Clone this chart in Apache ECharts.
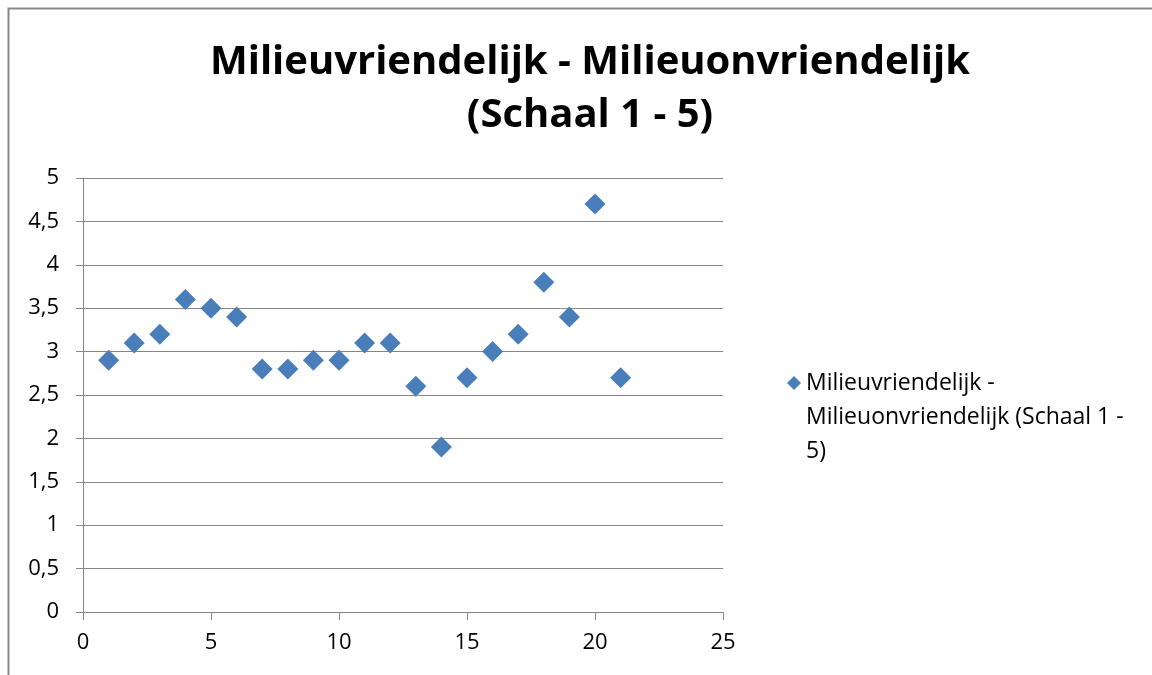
<!DOCTYPE html>
<html>
<head>
<meta charset="utf-8">
<script src="https://cdn.jsdelivr.net/npm/echarts@6/dist/echarts.min.js"></script>
<style>
  html, body { margin: 0; padding: 0; background: #fff; }
  #chart { width: 1152px; height: 675px; }
</style>
</head>
<body>
<div id="chart"></div>
<script>
// data
var seriesName = 'Milieuvriendelijk - Milieuonvriendelijk (Schaal 1 - 5)'
var xValues = [1, 2, 3, 4, 5, 6, 7, 8, 9, 10, 11, 12, 13, 14, 15, 16, 17, 18, 19, 20, 21]
var yValues = [2.9, 3.1, 3.2, 3.6, 3.5, 3.4, 2.8, 2.8, 2.9, 2.9, 3.1, 3.1, 2.6, 1.9, 2.7, 3.0, 3.2, 3.8, 3.4, 4.7, 2.7]

var font = '"Open Sans", Lato, sans-serif'
var grey = '#878787'

var chart = echarts.init(document.getElementById('chart'))
chart.setOption({
  backgroundColor: '#fff',
  animation: false,
  title: {
    text: 'Milieuvriendelijk - Milieuonvriendelijk\n(Schaal 1 - 5)',
    left: 585,
    textAlign: 'center',
    top: 31,
    textStyle: {
      fontFamily: font,
      fontWeight: 'bold',
      fontSize: 40,
      lineHeight: 53,
      color: '#000'
    }
  },
  graphic: [{
    type: 'rect',
    shape: { x: 8.5, y: 8.5, width: 1200, height: 700 },
    style: { fill: null, stroke: grey, lineWidth: 2 },
    silent: true
  }],
  legend: {
    left: 782,
    top: 293,
    itemWidth: 14,
    itemHeight: 14,
    itemGap: 0,
    data: [{ name: seriesName, icon: 'diamond' }],
    // blank lines put the marker beside the first text line
    formatter: function () {
      return '\n\nMilieuvriendelijk -\nMilieuonvriendelijk (Schaal 1 -\n5)'
    },
    textStyle: {
      fontFamily: font,
      fontSize: 23,
      lineHeight: 34,
      color: '#000'
    }
  },
  grid: {
    left: 83,
    right: 429,
    top: 178,
    bottom: 63
  },
  xAxis: {
    type: 'value',
    min: 0,
    max: 25,
    interval: 5,
    axisLine: { show: true, onZero: false, lineStyle: { color: grey, width: 1 } },
    axisTick: { show: true, length: 8, lineStyle: { color: grey } },
    splitLine: { show: false },
    axisLabel: {
      margin: 20,
      fontFamily: font,
      fontSize: 22,
      color: '#000'
    }
  },
  yAxis: {
    type: 'value',
    min: 0,
    max: 5,
    interval: 0.5,
    axisLine: { show: true, lineStyle: { color: grey, width: 1 } },
    axisTick: { show: true, length: 7, lineStyle: { color: grey } },
    splitLine: { show: true, lineStyle: { color: grey, width: 1 } },
    axisLabel: {
      margin: 24,
      fontFamily: font,
      fontSize: 22,
      color: '#000',
      formatter: function (v) { return String(v).replace('.', ',') }
    }
  },
  series: [{
    name: seriesName,
    type: 'scatter',
    symbol: 'diamond',
    symbolSize: 21,
    itemStyle: { color: '#4a7ebb', opacity: 1 },
    data: xValues.map(function (x, i) { return [x, yValues[i]] })
  }]
})
</script>
</body>
</html>
